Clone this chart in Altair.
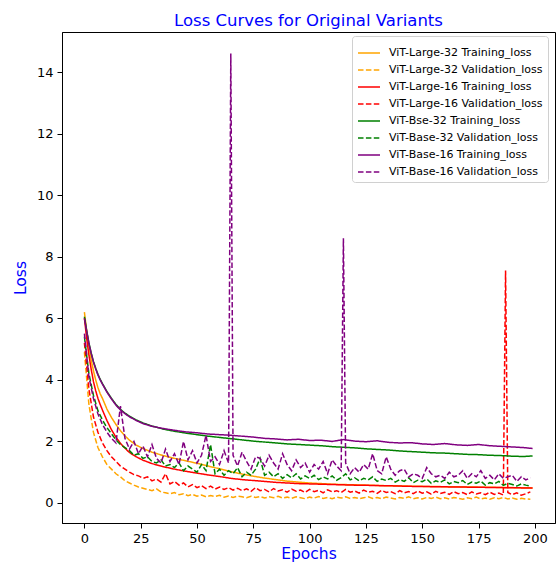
import altair as alt
import pandas as pd

SERIES = [
    "ViT-Large-32 Training_loss",
    "ViT-Large-32 Validation_loss",
    "ViT-Large-16 Training_loss",
    "ViT-Large-16 Validation_loss",
    "ViT-Bse-32 Training_loss",
    "ViT-Base-32 Validation_loss",
    "ViT-Base-16 Training_loss",
    "ViT-Base-16 Validation_loss",
]
COLORS = ["orange", "orange", "red", "red", "green", "green", "purple", "purple"]
DASHES = [[1, 0], [5.5, 2.4], [1, 0], [5.5, 2.4], [1, 0], [5.5, 2.4], [1, 0], [5.5, 2.4]]

TRAIN_EPOCHS = [0, 1, 2, 3, 4, 5, 6, 7, 8, 10, 12, 14, 16, 18, 20, 23, 26, 30,
                35, 40, 45, 50, 55, 60, 65, 70, 75, 80, 85, 90, 95, 100, 105, 110,
                115, 120, 125, 130, 135, 140, 145, 150, 155, 160, 165, 170, 175,
                180, 185, 190, 195, 199]
VAL_EPOCHS = list(range(0, 200, 2))

L32_TRAIN = [6.2, 5.6, 5.1, 4.65, 4.3, 4.0, 3.75, 3.55, 3.4,
             3.05, 2.78, 2.55, 2.35, 2.18, 2.04, 1.88, 1.77, 1.65,
             1.54, 1.45, 1.37, 1.29, 1.2, 1.11, 1.02, 0.94, 0.87, 0.81, 0.76, 0.71,
             0.68, 0.65, 0.63, 0.61, 0.6, 0.59, 0.58, 0.57, 0.56, 0.555, 0.545,
             0.54, 0.535, 0.53, 0.525, 0.52, 0.515, 0.51, 0.505, 0.5, 0.495, 0.49]
L16_TRAIN = [6.0, 5.35, 4.8, 4.35, 3.95, 3.65, 3.4, 3.2, 3.02,
             2.68, 2.38, 2.14, 1.94, 1.78, 1.64, 1.5, 1.39, 1.28,
             1.18, 1.1, 1.03, 0.97, 0.91, 0.86, 0.8, 0.76, 0.73, 0.7, 0.67, 0.65,
             0.63, 0.62, 0.61, 0.6, 0.59, 0.58, 0.575, 0.565, 0.56, 0.55, 0.54,
             0.535, 0.53, 0.525, 0.52, 0.515, 0.51, 0.505, 0.5, 0.495, 0.49, 0.485]
B32_TRAIN = [6.05, 5.6, 5.2, 4.88, 4.6, 4.38, 4.18, 4.02, 3.88,
             3.62, 3.4, 3.2, 3.04, 2.92, 2.82, 2.7, 2.6, 2.5,
             2.4, 2.33, 2.27, 2.22, 2.17, 2.13, 2.09, 2.05, 2.01, 1.98, 1.95, 1.92,
             1.9, 1.88, 1.86, 1.83, 1.81, 1.79, 1.76, 1.74, 1.72, 1.69, 1.67,
             1.65, 1.63, 1.62, 1.6, 1.58, 1.57, 1.55, 1.54, 1.52, 1.51, 1.53]
B16_TRAIN = [6.0, 5.58, 5.18, 4.86, 4.58, 4.36, 4.16, 4.0, 3.86,
             3.6, 3.38, 3.18, 3.02, 2.9, 2.8, 2.68, 2.58, 2.49,
             2.42, 2.36, 2.31, 2.28, 2.24, 2.22, 2.2, 2.17, 2.14, 2.1, 2.08, 2.05,
             2.07, 2.03, 2.04, 2.0, 2.06, 2.01, 1.99, 2.02, 1.97, 1.95, 1.96,
             1.92, 1.9, 1.93, 1.89, 1.87, 1.9, 1.86, 1.84, 1.82, 1.8, 1.77]

L32_VAL = [4.9, 3.2, 2.3, 1.8, 1.5, 1.25, 1.1, 0.95, 0.85, 0.72,
           0.65, 0.58, 0.52, 0.48, 0.44, 0.4, 0.46, 0.36, 0.33, 0.3,
           0.34, 0.27, 0.3, 0.24, 0.28, 0.22, 0.26, 0.2, 0.24, 0.21,
           0.25, 0.19, 0.23, 0.18, 0.22, 0.2, 0.17, 0.22, 0.18, 0.21,
           0.16, 0.2, 0.17, 0.22, 0.16, 0.19, 0.15, 0.2, 0.17, 0.14,
           0.19, 0.16, 0.21, 0.15, 0.18, 0.14, 0.19, 0.16, 0.2, 0.15,
           0.18, 0.14, 0.17, 0.2, 0.15, 0.18, 0.14, 0.19, 0.16, 0.13,
           0.18, 0.15, 0.2, 0.14, 0.17, 0.13, 0.18, 0.15, 0.19, 0.14,
           0.17, 0.13, 0.18, 0.15, 0.12, 0.17, 0.14, 0.19, 0.13, 0.16,
           0.12, 0.17, 0.14, 0.18, 0.13, 0.16, 0.12, 0.15, 0.13, 0.12]
L16_VAL = [5.2, 3.7, 2.8, 2.3, 1.95, 1.7, 1.5, 1.35, 1.2, 1.1,
           1.0, 0.92, 0.88, 0.8, 0.85, 0.72, 0.78, 0.68, 0.95, 0.62,
           0.7, 0.58, 0.65, 0.52, 0.6, 0.5, 0.56, 0.47, 0.55, 0.45,
           0.52, 0.44, 0.5, 0.42, 0.48, 0.4, 0.46, 0.38, 0.5, 0.4,
           0.44, 0.36, 0.47, 0.39, 0.43, 0.35, 0.45, 0.38, 0.42, 0.34,
           0.44, 0.37, 0.41, 0.33, 0.43, 0.36, 0.4, 0.34, 0.44, 0.35,
           0.39, 0.32, 0.42, 0.35, 0.38, 0.31, 0.41, 0.34, 0.37, 0.3,
           0.4, 0.33, 0.37, 0.3, 0.39, 0.32, 0.36, 0.29, 0.38, 0.31,
           0.35, 0.28, 0.37, 0.3, 0.34, 0.27, 0.36, 0.29, 0.33, 0.27,
           0.35, 0.28, 0.32, 0.26, 0.34, 0.27, 0.33, 0.25, 0.3, 0.36]
B32_VAL = [5.4, 4.2, 3.5, 3.0, 2.7, 2.45, 2.25, 2.05, 1.9, 1.8,
           1.7, 1.55, 1.6, 1.45, 1.5, 1.35, 1.3, 1.4, 1.2, 1.25,
           1.15, 1.3, 1.05, 1.2, 1.1, 1.0, 1.25, 1.05, 1.9, 0.95,
           1.1, 0.9, 1.05, 0.95, 1.15, 0.85, 1.0, 0.9, 1.1, 1.45,
           0.9, 1.0, 0.85, 0.95, 0.8, 0.92, 0.82, 0.95, 0.78, 0.88,
           0.8, 0.9, 0.76, 0.85, 0.78, 0.88, 0.74, 0.82, 0.95, 0.75,
           0.82, 0.72, 0.8, 0.75, 0.85, 0.7, 0.78, 0.73, 0.8, 0.68,
           0.76, 0.7, 0.82, 0.66, 0.74, 0.69, 0.78, 0.64, 0.72, 0.67,
           0.75, 0.62, 0.7, 0.66, 0.73, 0.6, 0.68, 0.64, 0.71, 0.58,
           0.66, 0.62, 0.7, 0.57, 0.64, 0.6, 0.55, 0.62, 0.58, 0.55]
B16_VAL = [5.5, 4.1, 3.4, 2.9, 2.55, 2.3, 2.1, 1.95, 3.15, 2.1,
           1.75, 2.0, 1.6, 1.85, 1.5, 1.9, 1.45, 1.3, 1.75, 1.35,
           1.6, 1.25, 2.0, 1.4, 1.7, 1.3, 1.55, 2.2, 1.35, 1.5,
           1.25, 1.7, 1.3, 1.55, 1.2, 1.65, 1.35, 1.1, 1.5, 1.45,
           1.2, 1.55, 1.3, 1.1, 1.6, 1.25, 1.05, 1.4, 1.15, 1.3,
           1.0, 1.25, 1.1, 1.35, 0.95, 1.4, 1.2, 1.05, 1.3, 0.95,
           1.15, 1.0, 1.25, 1.1, 1.6, 1.05, 0.95, 1.5, 1.1, 0.9,
           1.05, 1.1, 0.85, 0.95, 0.9, 0.8, 1.15, 0.95, 0.85, 0.9,
           0.8, 1.0, 0.85, 0.9, 1.05, 0.8, 0.95, 0.85, 1.05, 0.8,
           0.9, 0.75, 0.95, 0.8, 0.85, 0.9, 0.7, 0.85, 0.75, 0.82]

# single-epoch spikes in the validation curves: (series index, epoch, loss)
SPIKES = [(7, 65, 14.6), (7, 115, 8.6), (3, 187, 7.55)]

rows = []
for i, (ep, vals) in enumerate([
    (TRAIN_EPOCHS, L32_TRAIN), (VAL_EPOCHS, L32_VAL),
    (TRAIN_EPOCHS, L16_TRAIN), (VAL_EPOCHS, L16_VAL),
    (TRAIN_EPOCHS, B32_TRAIN), (VAL_EPOCHS, B32_VAL),
    (TRAIN_EPOCHS, B16_TRAIN), (VAL_EPOCHS, B16_VAL),
]):
    for e, v in zip(ep, vals):
        rows.append({"series": SERIES[i], "epoch": e, "loss": v})
for i, e, v in SPIKES:
    rows.append({"series": SERIES[i], "epoch": e, "loss": v})
df = pd.DataFrame(rows).sort_values(["series", "epoch"])

FONT = "DejaVu Sans"
legend = alt.Legend(
    title=None, orient="none", legendX=290, legendY=4,
    labelFont=FONT, labelFontSize=11, labelColor="black", labelLimit=400,
    symbolType="stroke", symbolSize=484, symbolStrokeWidth=1.5,
    strokeColor="#d0d0d0", fillColor="white", cornerRadius=3, padding=5,
    rowPadding=-5, labelOffset=8,
)

base = alt.Chart(df).mark_line(strokeWidth=1.5).encode(
    x=alt.X("epoch:Q", scale=alt.Scale(domain=[-9.95, 208.95], nice=False, zero=False),
            axis=alt.Axis(values=[0, 25, 50, 75, 100, 125, 150, 175, 200], title="Epochs")),
    y=alt.Y("loss:Q", scale=alt.Scale(domain=[-0.65, 15.3], nice=False, zero=False),
            axis=alt.Axis(values=[0, 2, 4, 6, 8, 10, 12, 14], title="Loss")),
    color=alt.Color("series:N", scale=alt.Scale(domain=SERIES, range=COLORS),
                    sort=SERIES, legend=legend),
    strokeDash=alt.StrokeDash("series:N", scale=alt.Scale(domain=SERIES, range=DASHES),
                              sort=SERIES, legend=legend),
)

layers = [base.transform_filter(alt.datum.series == s) for s in SERIES]

chart = alt.layer(*layers).properties(
    width=493, height=491,
    title=alt.TitleParams("Loss Curves for Original Variants", font=FONT, fontSize=16.5,
                          color="blue", fontWeight="normal", anchor="middle", offset=3),
    autosize=alt.AutoSizeParams(type="none"),
    padding={"left": 62, "top": 32, "right": 3, "bottom": 39},
).configure_view(
    stroke="black", strokeWidth=1,
).configure_axis(
    grid=False, domainColor="black", domainWidth=1, tickColor="black", tickSize=5,
    tickWidth=1, labelFont=FONT, labelFontSize=13, labelColor="black", labelPadding=4,
    titleFont=FONT, titleFontSize=15.5, titleColor="blue", titleFontWeight="normal",
).configure_axisX(titlePadding=1).configure_axisY(titlePadding=8)

chart.save("out.html", embed_options={"renderer": "svg", "actions": False})
